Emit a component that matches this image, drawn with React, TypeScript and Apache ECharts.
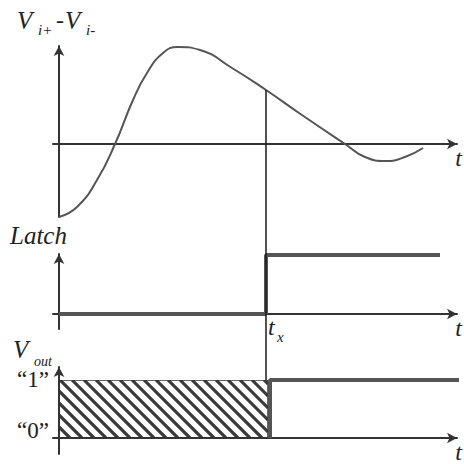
import React, { useEffect, useRef } from "react";
import * as echarts from "echarts";

// Panel 1: differential input V(i+) - V(i-) versus time (arbitrary units)
const CURVE_T = [0, 18, 38, 56, 74, 88, 104, 119, 141, 173, 207, 240, 286, 306, 327, 346, 364];
const CURVE_V = [-73, -63, -36, 0, 44, 71, 91, 97, 94, 76, 54, 31, 0, -13, -17, -13, -4];

// Latch instant t_x
const T_X = 207;
// bottom of the t_x marker, in panel-1 units (reaches the V_out "1" level)
const TX_LINE_BOTTOM = -236;

// Panel 2: Latch signal
const LATCH_T = [0, 207, 207, 381];
const LATCH_V = [0, 0, 1, 1];

// Panel 3: V_out
const VOUT_T = [211, 211, 401];
const VOUT_V = [0, 1, 1];
const UNDEFINED_REGION = [0, 209, 0, 1]; // t0, t1, v0, v1 (hatched)
const VOUT_LEVELS = [0, 1];
const VOUT_LEVEL_LABELS = ["\u201c0\u201d", "\u201c1\u201d"];

const SERIF = "Liberation Serif";
const AXIS_COLOR = "#333";
const TEXT_COLOR = "#222";

function axisBase() {
  return {
    type: "value",
    axisLine: {
      show: true,
      onZero: true,
      symbol: ["none", "arrow"],
      symbolSize: [8, 10],
      lineStyle: { color: AXIS_COLOR, width: 2 },
    },
    axisTick: { show: false },
    axisLabel: { show: false },
    splitLine: { show: false },
  };
}

function xAxis(gridIndex: number) {
  return {
    ...axisBase(),
    gridIndex,
    min: -6,
    max: 398,
    name: "t",
    nameLocation: "end",
    nameGap: 5,
    nameTextStyle: {
      fontFamily: SERIF,
      fontStyle: "italic",
      fontSize: 24,
      color: TEXT_COLOR,
      align: "right",
      verticalAlign: "top",
      padding: [2, 0, 0, 0],
    },
  };
}

function sub(text: string, x: number, baseline: number, size: number, italic = true) {
  return {
    type: "text",
    x,
    y: baseline - 0.34 * size,
    style: {
      text,
      fill: TEXT_COLOR,
      fontFamily: SERIF,
      fontSize: size,
      fontStyle: italic ? "italic" : "normal",
      verticalAlign: "middle",
      align: "left",
    },
  };
}

export default function App() {
  const ref = useRef<HTMLDivElement>(null);

  useEffect(() => {
    if (!ref.current) return;
    const chart = echarts.init(ref.current, null, { renderer: "svg" });
    const txTop = CURVE_V[CURVE_T.indexOf(T_X)];

    const option: any = {
      animation: false,
      backgroundColor: "#fff",
      grid: [
        { left: 53, top: 46, width: 404, height: 171 },
        { left: 53, top: 254, width: 404, height: 75 },
        { left: 53, top: 367, width: 404, height: 87 },
      ],
      xAxis: [xAxis(0), xAxis(1), xAxis(2)],
      yAxis: [
        { ...axisBase(), gridIndex: 0, min: -73, max: 98 },
        { ...axisBase(), gridIndex: 1, min: -0.254, max: 1.017 },
        {
          ...axisBase(),
          gridIndex: 2,
          min: -0.276,
          max: 1.224,
          axisLabel: {
            show: true,
            customValues: VOUT_LEVELS,
            margin: 4,
            fontFamily: SERIF,
            fontSize: 23,
            color: TEXT_COLOR,
            formatter: (v: number) => {
              const label = VOUT_LEVEL_LABELS[VOUT_LEVELS.indexOf(v)];
              return v === 0 ? `{zero|${label}}` : `{one|${label}}`;
            },
            rich: {
              zero: { fontFamily: SERIF, fontSize: 23, color: TEXT_COLOR, padding: [0, 0, 14, 0] },
              one: { fontFamily: SERIF, fontSize: 23, color: TEXT_COLOR },
            },
          },
        },
      ],
      series: [
        {
          type: "line",
          xAxisIndex: 0,
          yAxisIndex: 0,
          data: CURVE_T.map((t, i) => [t, CURVE_V[i]]),
          smooth: 0.5,
          showSymbol: false,
          clip: false,
          lineStyle: { color: "#555", width: 2 },
        },
        {
          type: "line",
          xAxisIndex: 0,
          yAxisIndex: 0,
          data: [
            [T_X, txTop],
            [T_X, TX_LINE_BOTTOM],
          ],
          showSymbol: false,
          clip: false,
          z: 5,
          lineStyle: { color: "#1a1a1a", width: 1.5 },
        },
        {
          type: "line",
          xAxisIndex: 1,
          yAxisIndex: 1,
          data: LATCH_T.map((t, i) => [t, LATCH_V[i]]),
          showSymbol: false,
          clip: false,
          lineStyle: { color: "#555", width: 4 },
        },
        {
          type: "custom",
          xAxisIndex: 2,
          yAxisIndex: 2,
          clip: false,
          data: [UNDEFINED_REGION],
          encode: { x: [0, 1], y: [2, 3] },
          renderItem: (params: any, api: any) => {
            const tl = api.coord([api.value(0), api.value(3)]);
            const br = api.coord([api.value(1), api.value(2)]);
            const x0 = tl[0], y0 = tl[1], x1 = br[0], y1 = br[1];
            const step = 12;
            const children: any[] = [];
            for (let c = y0 - x1 + 4; c <= y1 - x0; c += step) {
              const xa = Math.max(x0, y0 - c);
              const xb = Math.min(x1, y1 - c);
              if (xb <= xa) continue;
              children.push({
                type: "line",
                shape: { x1: xa, y1: xa + c, x2: xb, y2: xb + c },
                style: { stroke: "#3a3a3a", lineWidth: 3.2 },
              });
            }
            children.push({
              type: "rect",
              shape: { x: x0, y: y0, width: x1 - x0, height: y1 - y0 },
              style: { fill: "none", stroke: "#333", lineWidth: 1.5 },
            });
            return {
              type: "group",
              children,
              clipPath: {
                type: "rect",
                shape: { x: x0, y: y0, width: x1 - x0, height: y1 - y0 },
              },
            };
          },
        },
        {
          type: "line",
          xAxisIndex: 2,
          yAxisIndex: 2,
          data: VOUT_T.map((t, i) => [t, VOUT_V[i]]),
          showSymbol: false,
          clip: false,
          lineStyle: { color: "#555", width: 4 },
        },
      ],
      graphic: [
        sub("V", 17, 29, 25),
        sub("i+", 38, 35, 15),
        sub("-", 56, 28, 24, false),
        sub("V", 65, 29, 25),
        sub("i-", 86, 35, 15),
        sub("Latch", 10, 244, 25),
        sub("V", 13, 358, 25),
        sub("out", 34, 366, 14),
        sub("t", 268, 335, 24),
        sub("x", 277, 342, 15),
      ],
    };
    chart.setOption(option);
    return () => chart.dispose();
  }, []);

  return (
    <div
      ref={ref}
      style={{ position: "fixed", left: 0, top: 0, width: 464, height: 464 }}
    />
  );
}
